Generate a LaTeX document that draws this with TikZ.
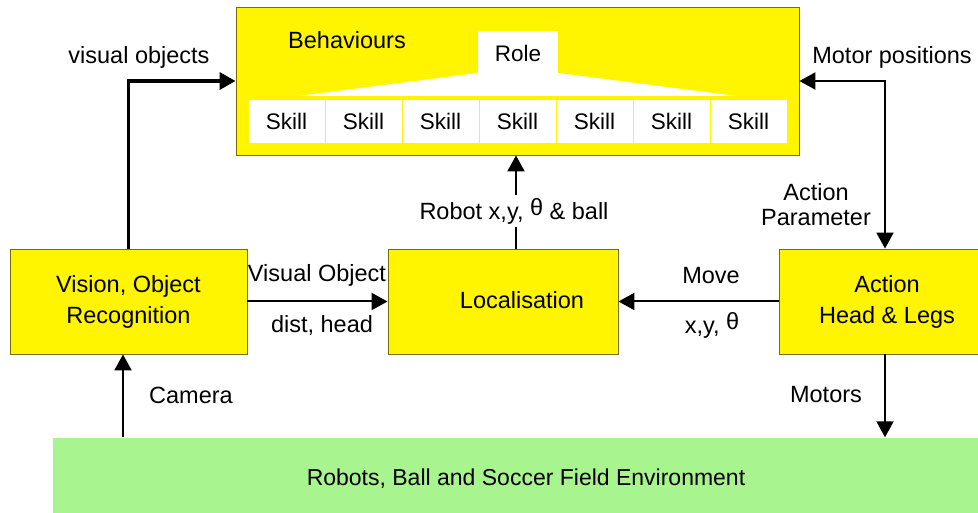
\documentclass[tikz,border=0pt]{standalone}
\usepackage{fontspec}
\setmainfont{Liberation Sans}
\usetikzlibrary{arrows.meta}
\definecolor{boxyellow}{RGB}{255,245,0}
\definecolor{boxedge}{RGB}{120,110,0}
\definecolor{envgreen}{RGB}{168,245,144}
\tikzset{
  lbl/.style={font=\fontsize{23.5}{28}\selectfont, inner sep=1pt, align=center},
  ybox/.style={draw=boxedge, line width=0.9pt, fill=boxyellow, inner sep=0pt,
               font=\fontsize{23.5}{31}\selectfont, align=center},
  wbox/.style={fill=white, inner sep=0pt, font=\fontsize{22.5}{26}\selectfont},
  conn/.style={line width=2pt, -{Triangle[length=16pt,width=17pt]}},
  bothconn/.style={line width=2pt, {Triangle[length=16pt,width=17pt]}-{Triangle[length=16pt,width=17pt]}},
}
\newcommand{\thetaup}{\raisebox{4pt}{θ}}
\begin{document}
\begin{tikzpicture}[x=1pt, y=-1pt]
\useasboundingbox (0,0) rectangle (978,513);
\clip (0,0) rectangle (978,513);

% Behaviours block with role and skills
\node[ybox, minimum width=563pt, minimum height=148pt] (beh) at (517.5,81) {};
\node[lbl] (behlbl) at (347,40) {Behaviours};
\fill[white] (478,73) -- (558,73) -- (736,96) -- (298,96) -- cycle;
\node[wbox, minimum width=80pt, minimum height=43pt] (role) at (518,53) {Role};
\foreach \i in {0,...,6} {
  \node[wbox, minimum width=76pt, minimum height=43pt] (skill\i) at (286.5+77*\i,121.5) {Skill};
}

% Processing blocks
\node[ybox, minimum width=237pt, minimum height=105pt] (vis) at (128.5,301.5) {Vision, Object\\Recognition};
\node[ybox, minimum width=230pt, minimum height=105pt] (loc) at (503,301.5) {};
\node[lbl] (loclbl) at (522,300) {Localisation};
\node[ybox, minimum width=212pt, minimum height=105pt] (act) at (885,301.5) {};
\node[ybox, draw=none, fill=none] (actlbl) at (887,302) {Action\\Head \& Legs};

% Environment
\node[fill=envgreen, minimum width=930pt, minimum height=77pt, inner sep=0pt] (env) at (518,476) {};
\node[lbl, font=\fontsize{23}{27}\selectfont] (envlbl) at (526,479) {Robots, Ball and Soccer Field Environment};

% Connectors
\draw[line width=3.6pt, -{Triangle[length=16pt,width=17pt]}] (vis.north) |- (beh.west);
\node[lbl] (vislbl) at (139,57) {visual objects};

\draw[bothconn] (beh.east) -| (act.north);
\node[lbl] (motpos) at (892,57) {Motor positions};
\node[lbl, font=\fontsize{23.5}{25}\selectfont] (actpar) at (816,205) {Action\\Parameter};

\draw[conn] (loc.north -| 516,0) -- (beh.south -| 516,0);
\node[lbl, fill=white, inner sep=3pt] (robot) at (514,211) {Robot x,y, \thetaup{} \& ball};

\draw[conn] (vis.east) -- (loc.west);
\node[lbl] (visobj) at (317,275) {Visual Object};
\node[lbl] (dist) at (322,325) {dist, head};

\draw[conn] (act.west) -- (loc.east);
\node[lbl] (move) at (711,276) {Move};
\node[lbl] (xyt) at (712,325) {x,y, \thetaup};

\draw[conn] (env.north -| 123,0) -- (vis.south -| 123,0);
\node[lbl] (cam) at (191,395) {Camera};

\draw[conn] (act.south) -- (act.south |- env.north);
\node[lbl] (mot) at (826,395) {Motors};
\end{tikzpicture}
\end{document}
